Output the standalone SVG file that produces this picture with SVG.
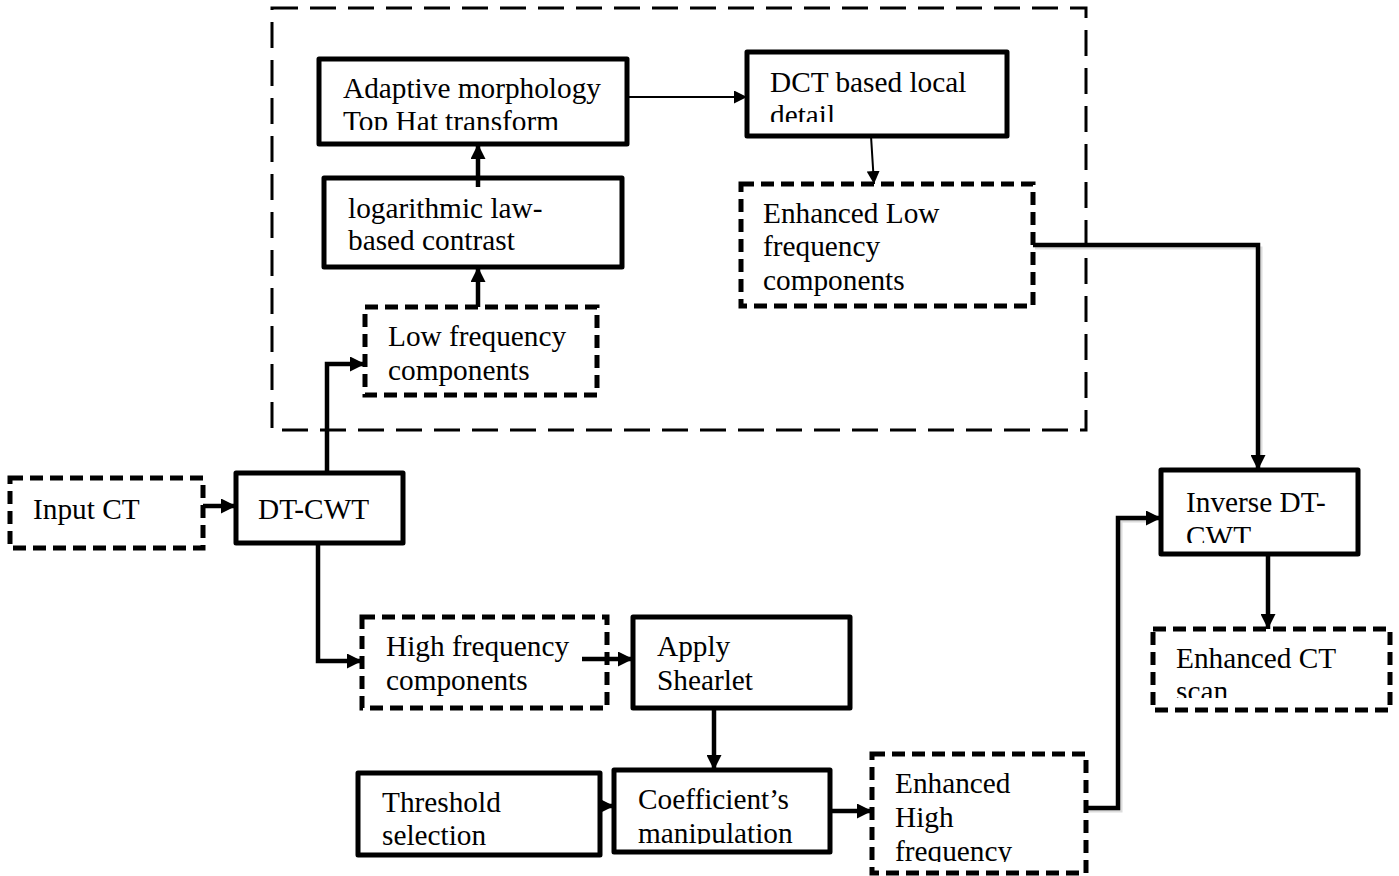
<svg xmlns="http://www.w3.org/2000/svg" width="1399" height="876" viewBox="0 0 1399 876">
<style>
text{font-family:"Liberation Serif","Times New Roman",serif;font-size:29.3px;fill:#000}
.solid{fill:#fff;stroke:#000;stroke-width:5;stroke-linejoin:round}
.dash{fill:#fff;stroke:#000;stroke-width:5;stroke-dasharray:13 7}
.cont{fill:none;stroke:#000;stroke-width:3;stroke-dasharray:26 12}
.c{fill:none;stroke:#000;stroke-width:4.5}
.t{fill:none;stroke:#000;stroke-width:2}
.sh{fill:none;stroke:#dcdcdc;stroke-width:3}
</style>
<defs>
<marker id="ah" markerWidth="15" markerHeight="15" refX="15" refY="7.5" orient="auto" markerUnits="userSpaceOnUse"><path d="M0,0 L15,7.5 L0,15 z" fill="#000"/></marker>
<marker id="as" markerWidth="13" markerHeight="13" refX="13" refY="6.5" orient="auto" markerUnits="userSpaceOnUse"><path d="M0,0 L13,6.5 L0,13 z" fill="#000"/></marker>
<clipPath id="cpAd"><rect x="319" y="59" width="308" height="71"/></clipPath>
<clipPath id="cpDct"><rect x="747" y="52" width="260" height="70"/></clipPath>
<clipPath id="cpCoef"><rect x="614" y="770" width="216" height="74"/></clipPath>
<clipPath id="cpEH"><rect x="872" y="754" width="214" height="108"/></clipPath>
<clipPath id="cpInv"><rect x="1161" y="470" width="197" height="73"/></clipPath>
<clipPath id="cpECT"><rect x="1153" y="629" width="237" height="69"/></clipPath>
</defs>
<rect class="cont" x="272" y="8" width="814" height="422"/>
<g id="adaptive">
<rect class="solid" x="319" y="59" width="308" height="85"/>
<g clip-path="url(#cpAd)"><text x="343" y="98">Adaptive morphology</text><text x="343" y="131">Top Hat transform</text></g>
</g>
<g id="dct">
<rect class="solid" x="747" y="52" width="260" height="84"/>
<g clip-path="url(#cpDct)"><text x="770" y="92">DCT based local</text><text x="770" y="125">detail</text></g>
</g>
<g id="logarithmic">
<rect class="solid" x="324" y="178" width="298" height="89"/>
<text x="348" y="218">logarithmic law-</text><text x="348" y="250">based contrast</text>
</g>
<g id="enhanced-low">
<rect class="dash" x="741" y="184" width="292" height="122"/>
<text x="763" y="223">Enhanced Low</text><text x="763" y="256">frequency</text><text x="763" y="290">components</text>
</g>
<g id="low-freq">
<rect class="dash" x="365" y="307" width="232" height="88"/>
<text x="388" y="346">Low frequency</text><text x="388" y="380">components</text>
</g>
<g id="input-ct">
<rect class="dash" x="10" y="478" width="193" height="70"/>
<text x="33" y="519">Input CT</text>
</g>
<g id="dtcwt">
<rect class="solid" x="236" y="473" width="167" height="70"/>
<text x="258" y="519">DT-CWT</text>
</g>
<g id="high-freq">
<rect class="dash" x="362" y="617" width="245" height="91"/>
<text x="386" y="656">High frequency</text><text x="386" y="690">components</text>
</g>
<g id="shearlet">
<rect class="solid" x="633" y="617" width="217" height="91"/>
<text x="657" y="656">Apply</text><text x="657" y="690">Shearlet</text>
</g>
<g id="threshold">
<rect class="solid" x="358" y="773" width="242" height="82"/>
<text x="382" y="812">Threshold</text><text x="382" y="845">selection</text>
</g>
<g id="coefficient">
<rect class="solid" x="614" y="770" width="216" height="82"/>
<g clip-path="url(#cpCoef)"><text x="638" y="809">Coefficient’s</text><text x="638" y="843">manipulation</text></g>
</g>
<g id="enhanced-high">
<rect class="dash" x="872" y="754" width="214" height="119"/>
<g clip-path="url(#cpEH)"><text x="895" y="793">Enhanced</text><text x="895" y="827">High</text><text x="895" y="861">frequency</text></g>
</g>
<g id="inverse">
<rect class="solid" x="1161" y="470" width="197" height="84"/>
<g clip-path="url(#cpInv)"><text x="1186" y="512">Inverse DT-</text><text x="1186" y="546">CWT</text></g>
</g>
<g id="enhanced-ct">
<rect class="dash" x="1153" y="629" width="237" height="81"/>
<g clip-path="url(#cpECT)"><text x="1176" y="668">Enhanced CT</text><text x="1176" y="701">scan</text></g>
</g>
<g id="connectors">
<path class="sh" d="M1035,248 H1261 V460"/>
<path class="sh" d="M1089,811 H1121 V521 H1150"/>
<path class="c" d="M203,506 H236" marker-end="url(#ah)"/>
<path class="c" d="M327,473 V364 H365" marker-end="url(#ah)"/>
<path class="c" d="M478,307 V267" marker-end="url(#ah)"/>
<path class="c" d="M478,187 V144" marker-end="url(#ah)"/>
<path class="t" d="M627,97 H747" marker-end="url(#as)"/>
<path class="t" d="M871,136 L874,184" marker-end="url(#as)"/>
<path class="c" d="M1033,245 H1258 V470" marker-end="url(#ah)"/>
<path class="c" d="M318,543 V661 H362" marker-end="url(#ah)"/>
<path class="c" d="M582,659 H633" marker-end="url(#ah)"/>
<path class="c" d="M714,708 V770" marker-end="url(#ah)"/>
<path class="c" d="M600,806 H614" marker-end="url(#ah)"/>
<path class="c" d="M830,811 H872" marker-end="url(#ah)"/>
<path class="c" d="M1086,808 H1118 V518 H1161" marker-end="url(#ah)"/>
<path class="c" d="M1268,554 V629" marker-end="url(#ah)"/>
</g>
</svg>
